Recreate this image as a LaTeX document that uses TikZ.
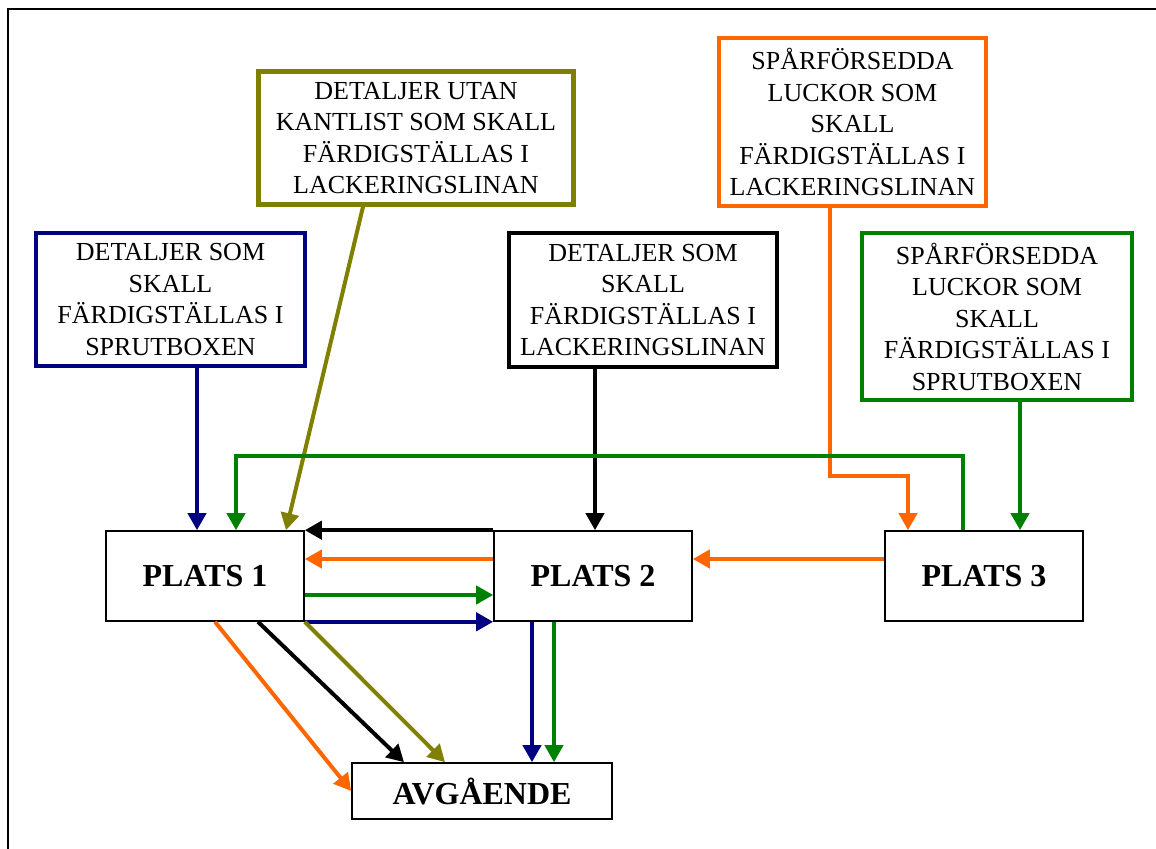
\documentclass[tikz,border=0pt]{standalone}
\usepackage{fontspec}
\setmainfont{Liberation Serif}
\usetikzlibrary{arrows.meta}
\definecolor{navy}{RGB}{0,0,128}
\definecolor{olv}{RGB}{128,128,0}
\definecolor{orng}{RGB}{255,102,0}
\definecolor{grn}{RGB}{0,128,0}
\begin{document}
\begin{tikzpicture}[x=0.5pt, y=-0.5pt, >={Triangle[length=8.5pt,width=9pt]},
          src/.style={draw, line width=2.2pt, align=center, inner sep=0pt,
                      font=\fontsize{13}{15.75}\selectfont},
          plats/.style={draw, line width=0.8pt, inner sep=0pt, minimum width=99pt,
                      minimum height=45pt, font=\fontsize{16}{19}\selectfont\bfseries},
          arr/.style={->, line width=2pt}]
        \useasboundingbox (0,0) rectangle (1156,849);
        \draw[line width=1.2pt] (8,849) -- (8,9) -- (1156,9);
        \node[src, navy, minimum width=134.5pt, minimum height=66.5pt] (a) at (170.5,299.5)
          {\color{black}DETALJER SOM\\\color{black}SKALL\\\color{black}FÄRDIGSTÄLLAS I\\\color{black}SPRUTBOXEN};
        \node[src, olv, minimum width=157.5pt, minimum height=66.5pt] (b) at (416,138)
          {\color{black}DETALJER UTAN\\\color{black}KANTLIST SOM SKALL\\\color{black}FÄRDIGSTÄLLAS I\\\color{black}LACKERINGSLINAN};
        \node[src, orng, minimum width=133.5pt, minimum height=84pt] (c) at (852.5,122)
          {\color{black}SPÅRFÖRSEDDA\\\color{black}LUCKOR SOM\\\color{black}SKALL\\\color{black}FÄRDIGSTÄLLAS I\\\color{black}LACKERINGSLINAN};
        \node[src, black, minimum width=134pt, minimum height=67pt] (d) at (643,300)
          {DETALJER SOM\\SKALL\\FÄRDIGSTÄLLAS I\\LACKERINGSLINAN};
        \node[src, grn, minimum width=135pt, minimum height=83.5pt] (e) at (997,316.5)
          {\color{black}SPÅRFÖRSEDDA\\\color{black}LUCKOR SOM\\\color{black}SKALL\\\color{black}FÄRDIGSTÄLLAS I\\\color{black}SPRUTBOXEN};
        \foreach \nr/\px in {1/205, 2/593, 3/984}
          \node[plats] (p\nr) at (\px,576) {PLATS \nr};
        \node[plats, minimum width=130pt, minimum height=28pt] (avg) at (482,791) {AVGÅENDE};
        \draw[arr, navy] ([xshift=13.25pt]a.south) -- ([xshift=-4pt]p1.north);
        \draw[arr, olv] ([xshift=-26.5pt]b.south) -- ([xshift=40.5pt]p1.north);
        \draw[arr, orng] ([xshift=-11.25pt]c.south) -- ++(0,268) -| ([xshift=-38pt]p3.north);
        \draw[arr, black] ([xshift=-24pt]d.south) -- ([xshift=1pt]p2.north);
        \draw[arr, grn] ([xshift=11.5pt]e.south) -- ([xshift=18pt]p3.north);
        \draw[arr, grn] ([xshift=-10.5pt]p3.north) -- ++(0,-74) -| ([xshift=15.5pt]p1.north);
        \draw[arr, black] (p2.north west) -- (p1.north east);
        \draw[arr, orng] ([yshift=8.5pt]p2.west) -- ([yshift=8.5pt]p1.east);
        \draw[arr, grn] ([yshift=-9.5pt]p1.east) -- ([yshift=-9.5pt]p2.west);
        \draw[arr, navy] (p1.south east) -- (p2.south west);
        \draw[arr, orng] ([yshift=8.5pt]p3.west) -- ([yshift=8.5pt]p2.east);
        \draw[arr, orng] ([xshift=5pt]p1.south) -- (avg.west);
        \draw[arr, black] ([xshift=26.5pt]p1.south) -- ([xshift=-39pt]avg.north);
        \draw[arr, olv] (p1.south east) -- ([xshift=-18.5pt]avg.north);
        \draw[arr, navy] ([xshift=-30.5pt]p2.south) -- ([xshift=25pt]avg.north);
        \draw[arr, grn] ([xshift=-19.5pt]p2.south) -- ([xshift=36pt]avg.north);
      \end{tikzpicture}
\end{document}
